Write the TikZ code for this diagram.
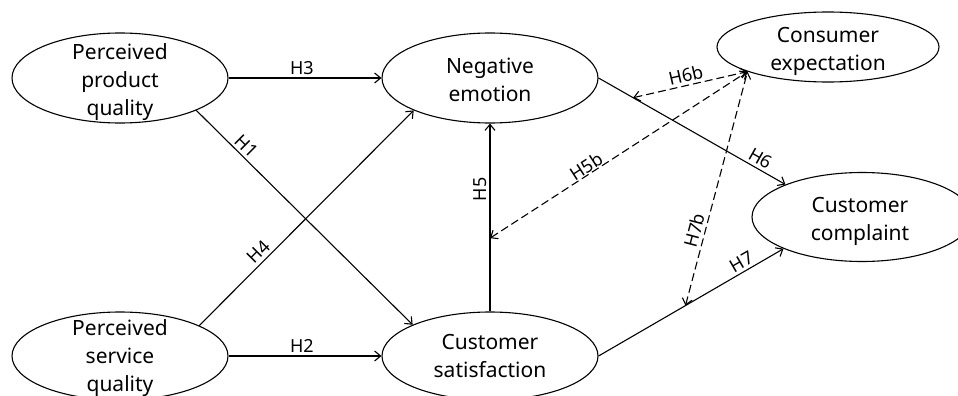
\documentclass[tikz,border=0pt]{standalone}
\usepackage{fontspec}
\setmainfont{Noto Sans}
\usetikzlibrary{shapes.geometric,arrows.meta}
\begin{document}
\begin{tikzpicture}[x=1pt,y=-1pt,
  ell/.style={draw, ellipse, inner sep=0pt, line width=1.1pt},
  etext/.style={align=center, font=\fontsize{21}{28}\selectfont, inner sep=0pt},
  lab/.style={font=\fontsize{18}{20}\selectfont, sloped, above, inner xsep=0pt, inner ysep=3pt},
  tip/.tip={Straight Barb[length=6pt,width=10pt]},
  arr/.style={line width=1.1pt, -tip},
  darr/.style={line width=1.1pt, dash pattern=on 8pt off 4pt, tip-tip}]
\useasboundingbox (0,0) rectangle (958,396);
\clip (0,0) rectangle (958,396);
% ellipses
\node[ell, minimum width=216pt, minimum height=90pt] (ppq) at (120,78) {};
\node[ell, minimum width=216pt, minimum height=88pt] (psq) at (120,356) {};
\node[ell, minimum width=216pt, minimum height=90pt] (ne) at (490,78) {};
\node[ell, minimum width=216pt, minimum height=88pt] (cs) at (490,356) {};
\node[ell, minimum width=222pt, minimum height=70pt] (ce) at (828,47) {};
\node[ell, minimum width=220pt, minimum height=89pt] (cc) at (862,217) {};
% texts
\node[etext] (tppq) at (120,82) {Perceived\\product\\quality};
\node[etext] (tpsq) at (120,358) {Perceived\\service\\quality};
\node[etext] (tne) at (490,80) {Negative\\emotion};
\node[etext] (tcs) at (490,356) {Customer\\satisfaction};
\node[etext] (tce) at (828,51) {Consumer\\expectation};
\node[etext] (tcc) at (860,221) {Customer\\complaint};
% solid paths
\draw[arr] (ppq.east) -- node[lab,pos=0.48] (l3) {H3} (ne.west);
\draw[arr] (psq.east) -- node[lab,pos=0.48] (l2) {H2} (cs.west);
\draw[arr] (ppq.-23.8) -- node[lab,pos=0.2] (l1) {H1} (cs.158.1);
\draw[arr] (psq.21.9) -- node[lab,pos=0.31] (l4) {H4} (ne.203.1);
\draw[arr] (cs.north) -- node[lab,pos=0.65] (l5) {H5} coordinate[pos=0.39] (m5) (ne.south);
\draw[arr] (ne.east) -- node[lab,pos=0.84] (l6) {H6} coordinate[pos=0.185] (m6) (cc.157.8);
\draw[arr] (cs.east) -- node[lab,pos=0.8] (l7) {H7} coordinate[pos=0.47] (m7) (cc.202.8);
% dashed moderation paths
\draw[darr] (m6) -- node[lab,pos=0.48] (l6b) {H6b} (ce.197.4);
\draw[darr] (m5) -- node[lab,pos=0.39,inner ysep=0.5pt] (l5b) {H5b} (ce.197.4);
\draw[darr] (m7) -- node[lab,pos=0.31] (l7b) {H7b} (ce.197.4);
\end{tikzpicture}
\end{document}
